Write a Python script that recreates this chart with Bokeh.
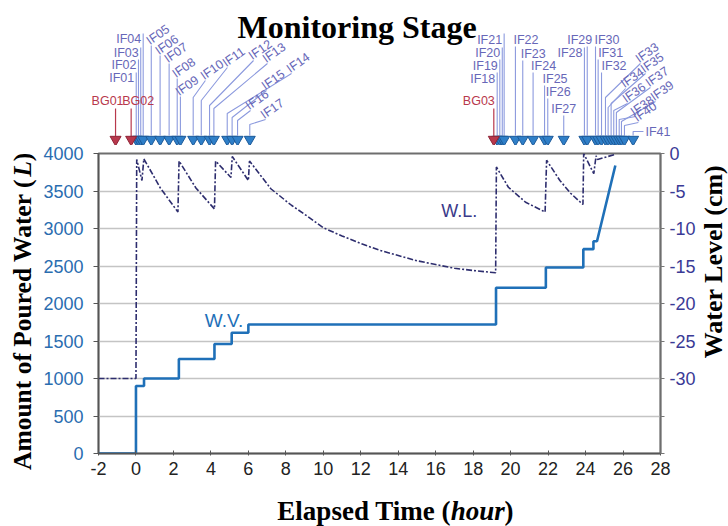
import math
from bokeh.plotting import figure
from bokeh.models import Range1d, LinearAxis, FixedTicker
from bokeh.layouts import column, row
from bokeh.embed import file_html
from bokeh.resources import INLINE
from bokeh.core.properties import value

# ---------------- data ----------------
# amount of poured water (L) vs elapsed time (h), step-wise record
wv_time = [-2, 0, 0, 0.43, 0.43, 2.29, 2.29, 4.19, 4.19, 5.11, 5.11, 6.0, 6.0,
           19.22, 19.22, 21.88, 21.88, 23.88, 23.88, 24.42, 24.42, 24.61, 25.59]
wv_litre = [0, 0, 900, 900, 1000, 1000, 1260, 1260, 1460, 1460, 1610, 1610, 1720,
            1720, 2210, 2210, 2480, 2480, 2725, 2725, 2830, 2830, 3840]

# water level (cm) vs elapsed time (h)
wl_time = [-2, 0, 0.04, 0.32, 0.42, 1.3, 2.24, 2.3, 3.2, 4.19, 4.25, 5.07, 5.14,
           6.0, 6.06, 7.2, 8.3, 9.0, 10, 11, 12, 13, 14, 15, 16, 17, 18, 19.2,
           19.24, 19.88, 20.8, 21.84, 21.92, 22.63, 23.2, 23.86, 23.9, 24.44,
           24.56, 24.64, 25.6]
wl_cm = [-30, -30, -0.8, -3.6, -0.7, -4.6, -7.8, -1.0, -4.6, -7.4, -1.0, -3.2, -0.4,
         -3.6, -1.0, -4.7, -6.9, -8.1, -9.9, -11.0, -12.0, -12.9, -13.6, -14.3,
         -14.8, -15.3, -15.6, -15.9, -1.8, -4.5, -6.5, -7.8, -0.9, -3.6, -5.3,
         -6.8, 0.0, -2.7, -0.3, -0.8, -0.1]

# background readings and infiltration events (h)
bg_names = ["BG01", "BG02", "BG03"]
bg_time = [-1.04, -0.21, 19.08]
if_names = ["IF%02d" % i for i in range(1, 42)]
if_time = [0.06, 0.18, 0.30, 0.43, 0.86, 1.33, 1.81, 2.24, 2.41, 3.09, 3.52, 3.96,
           4.19, 4.90, 5.16, 5.45, 6.10,
           19.26, 19.40, 19.53, 19.63, 20.23, 20.62, 21.17, 21.78, 21.95, 22.80,
           23.90, 24.05, 24.49, 24.63, 24.81, 25.02, 25.16, 25.32, 25.46, 25.60,
           25.75, 25.87, 26.03, 26.49]

x_ticks = list(range(-2, 29, 2))
left_ticks = list(range(0, 4001, 500))
grid_ticks = list(range(500, 3501, 500))
right_ticks = list(range(0, -41, -5))
x_tick_text = {t: str(t) for t in x_ticks}
right_tick_text = {t: (str(t) if t >= -30 else "") for t in right_ticks}

# ---------------- styles / layout ----------------
WV_COLOR = "#1f70b8"
WL_COLOR = "#2d2d6e"
IF_TEXT = "#6767b8"
IF_LINE = "#8c9ade"
TRI_FILL = "#2f7fc8"
TRI_LINE = "#1d5a99"
BG_COLOR = "#b8384c"
SERIF = "Liberation Serif"
SANS = "Liberation Sans"
TAG_SIZE = "12.5px"
TILT = math.radians(35)

PAGE_W, PAGE_H = 728, 526
X0, X1 = -2, 28
SIDE_L, SIDE_R = 40, 30                  # title strips left and right of the chart
PAD_L, FRAME_W, PAD_R = 57, 564, 37      # chart: left panel, frame, right panel
PX_PER_H = FRAME_W / (X1 - X0)
FRAME_LEFT = SIDE_L + PAD_L              # page x of the frame's left edge
STRIP_H = 145                            # height of the event-tag strip
CHART_H = 341                            # chart canvas (frame 300 px)
XT_H = PAGE_H - STRIP_H - CHART_H        # x-title strip


# tag placement in the marker strip: leader path relative to the event
# (hour offset, strip y in px from top), text anchor, alignment, angle, offsets
def stack(line_top, mid, align, xo):
    return dict(path=[(0, line_top)], txt=(0, mid), align=align, ang=0.0, xo=xo, yo=0)


def tilt(path):
    return dict(path=path, txt=path[-1], align="left", ang=TILT, xo=-3.5, yo=-3.5)


LAYOUT = {
    "IF01": stack(72, 77, "right", -2), "IF02": stack(59, 64, "right", -2),
    "IF03": stack(47, 52, "right", -2), "IF04": stack(33, 38, "right", -2),
    "IF05": tilt([(0, 45)]), "IF06": tilt([(0, 55)]), "IF07": tilt([(0, 63)]),
    "IF08": tilt([(0, 78)]), "IF09": tilt([(0, 96)]),
    "IF10": tilt([(0, 97), (0.65, 80)]), "IF11": tilt([(0, 100), (1.39, 67)]),
    "IF12": tilt([(0, 105), (2.34, 60)]), "IF13": tilt([(0, 108), (2.85, 63)]),
    "IF14": tilt([(0, 113), (3.42, 73)]), "IF15": tilt([(0, 117), (1.83, 90)]),
    "IF16": tilt([(0, 120), (0.69, 110)]), "IF17": tilt([(0, 124), (0.84, 119)]),
    "IF18": stack(72, 78, "right", -2), "IF19": stack(59, 65, "right", -2),
    "IF20": stack(47, 52, "right", -2), "IF21": stack(33, 39, "right", -2),
    "IF22": stack(46, 39, "left", -2), "IF23": stack(60, 53, "left", -2),
    "IF24": stack(72, 65, "left", -2), "IF25": stack(85, 78, "left", -2),
    "IF26": stack(98, 91, "left", -2), "IF27": stack(115, 108, "center", 0),
    "IF28": stack(47, 52, "right", -2), "IF29": stack(46, 39, "right", 5),
    "IF30": stack(46, 39, "left", -1), "IF31": stack(59, 52, "left", 0),
    "IF32": stack(72, 65, "left", 0),
    "IF33": tilt([(0, 97), (1.86, 63)]), "IF34": tilt([(0, 107), (0.93, 88)]),
    "IF35": tilt([(0, 103), (1.83, 73)]), "IF36": tilt([(0, 110), (0.73, 103)]),
    "IF37": tilt([(0, 112), (1.81, 87)]), "IF38": tilt([(0, 119), (0.87, 116)]),
    "IF39": tilt([(0, 121), (1.81, 101)]), "IF40": tilt([(0, 125), (0.74, 122)]),
    "IF41": dict(path=[(0, 131), (0.55, 131)], txt=(0.55, 131), align="left",
                 ang=0.0, xo=2, yo=0),
}
BG_LAYOUT = {"BG01": ("center", -8), "BG02": ("center", 7), "BG03": ("right", 1)}
TRI_Y = 139
LEADER_FOOT = 135


def strip(width, height, xr, yr, border_l=0, border_r=0):
    """Axis-less figure used as a canvas for titles and event tags."""
    f = figure(width=width, height=height, x_range=Range1d(*xr), y_range=Range1d(*yr),
               title=None, output_backend="svg", toolbar_location=None, min_border=0,
               min_border_left=border_l, min_border_right=border_r,
               x_axis_location=None, y_axis_location=None)
    f.outline_line_color = None
    f.grid.visible = False
    return f


def serif_text(fig, x, y, text, size, style="bold", angle=0.0, align="left"):
    fig.text(x=[x], y=[y], text=[text], angle=angle, text_font=value(SERIF),
             text_font_size=size, text_font_style=style, text_color="black",
             text_align=align, text_baseline="middle")


# ---------------- main chart ----------------
p = figure(width=PAD_L + FRAME_W + PAD_R, height=CHART_H, x_range=Range1d(X0, X1),
           y_range=Range1d(0, 4000), title=None, output_backend="svg",
           toolbar_location=None, min_border_left=PAD_L, min_border_right=PAD_R,
           min_border_top=8, min_border_bottom=CHART_H - 300 - 8)
p.extra_y_ranges = {"wl": Range1d(-40, 0)}
p.outline_line_color = "#6e6e6e"
p.outline_line_width = 2

xa = p.xaxis[0]
xa.ticker = FixedTicker(ticks=x_ticks)
xa.major_label_overrides = x_tick_text
ya = p.yaxis[0]
ya.ticker = FixedTicker(ticks=left_ticks)

for ax in (xa, ya):
    ax.axis_line_color = "#555555"
    ax.axis_line_width = 1.5
    ax.major_tick_line_color = "#555555"
    ax.minor_tick_line_color = None
    ax.major_label_text_font = SANS
    ax.major_label_text_font_size = "18px"

xa.major_tick_in = 3
xa.major_tick_out = 2
xa.major_label_standoff = 6
xa.major_label_text_color = "#222222"

ya.major_tick_in = 0
ya.major_tick_out = 5
ya.major_label_standoff = 10
ya.major_label_text_color = "#2a6db0"

ra = LinearAxis(y_range_name="wl", ticker=FixedTicker(ticks=right_ticks),
                major_label_overrides=right_tick_text)
ra.axis_line_color = "#6e6e6e"
ra.axis_line_width = 1.5
ra.major_tick_line_color = "#777777"
ra.major_tick_in = 0
ra.major_tick_out = 4
ra.minor_tick_line_color = None
ra.major_label_text_font = SANS
ra.major_label_text_font_size = "18px"
ra.major_label_text_color = "#3a3a96"
ra.major_label_standoff = 5
p.add_layout(ra, "right")

p.xgrid.visible = False
p.ygrid.ticker = FixedTicker(ticks=grid_ticks)
p.ygrid.grid_line_color = "#c4c4c4"
p.ygrid.grid_line_width = 1.5

p.line(wl_time, wl_cm, y_range_name="wl", line_color=WL_COLOR, line_width=1.6,
       line_dash="6 2 2 2")
p.line(wv_time, wv_litre, line_color=WV_COLOR, line_width=2.6)

p.text(x=[4.70], y=[1773], text=["W.V."], text_font=value(SANS), text_font_size="19px",
       text_color=WV_COLOR, text_align="center", text_baseline="middle")
p.text(x=[17.26], y=[3227], text=["W.L."], text_font=value(SANS), text_font_size="18px",
       text_color="#3a3a8a", text_align="center", text_baseline="middle")

# ---------------- marker strip with event tags ----------------
# full page width, same hour scale as the chart frame; y in px from the top
top = strip(PAGE_W, STRIP_H,
            (X0 - FRAME_LEFT / PX_PER_H, X1 + (PAGE_W - FRAME_LEFT - FRAME_W) / PX_PER_H),
            (STRIP_H, 0))

xs, ys = [], []
for name, t in zip(if_names, if_time):
    lay = LAYOUT[name]
    xs.append([t] + [t + dx for dx, _ in lay["path"]])
    ys.append([LEADER_FOOT] + [yy for _, yy in lay["path"]])
top.multi_line(xs, ys, line_color=IF_LINE, line_width=1.1)

for name, t in zip(if_names, if_time):
    lay = LAYOUT[name]
    dx, yy = lay["txt"]
    top.text(x=[t + dx], y=[yy], text=[name], angle=lay["ang"], x_offset=lay["xo"],
             y_offset=lay["yo"], text_font=value(SANS), text_font_size=TAG_SIZE,
             text_color=IF_TEXT, text_align=lay["align"], text_baseline="middle")

top.scatter(if_time, [TRI_Y] * len(if_time), marker="inverted_triangle", size=11,
            fill_color=TRI_FILL, line_color=TRI_LINE, line_width=1)

top.segment(x0=bg_time, y0=[108] * 3, x1=bg_time, y1=[LEADER_FOOT + 1] * 3,
            line_color=BG_COLOR, line_width=1.2)
top.scatter(bg_time, [TRI_Y] * 3, marker="inverted_triangle", size=11,
            fill_color=BG_COLOR, line_color="#8e2436", line_width=1)
for name, t in zip(bg_names, bg_time):
    align, xo = BG_LAYOUT[name]
    top.text(x=[t], y=[100], text=[name], x_offset=xo, text_font=value(SANS),
             text_font_size=TAG_SIZE, text_color=BG_COLOR, text_align=align,
             text_baseline="middle")

serif_text(top, 5.45, 26, "Monitoring Stage", "32px")

# ---------------- axis titles (strip coordinates are page pixels) ----------------
# x title under the frame, unit in italics
xt = strip(PAD_L + FRAME_W + PAD_R, XT_H, (FRAME_LEFT, FRAME_LEFT + FRAME_W),
           (PAGE_H, PAGE_H - XT_H), border_l=PAD_L, border_r=PAD_R)
serif_text(xt, 276.5, 510, "Elapsed Time (", "27px")
serif_text(xt, 450.5, 510, "hour", "27px", style="bold italic")
serif_text(xt, 504.5, 510, ")", "27px")

# left title, read bottom to top
lt = strip(SIDE_L, PAGE_H - STRIP_H, (0, SIDE_L), (PAGE_H, STRIP_H))
serif_text(lt, 22, 469.5, "Amount of Poured Water (", "25.5px", angle=math.pi / 2)
serif_text(lt, 22, 176.3, "L", "25.5px", style="bold italic", angle=math.pi / 2)
serif_text(lt, 22, 160.7, ")", "25.5px", angle=math.pi / 2)

# right title
rt = strip(SIDE_R, PAGE_H - STRIP_H, (PAGE_W - SIDE_R, PAGE_W), (PAGE_H, STRIP_H))
serif_text(rt, 713, 261, "Water Level (cm)", "26px", angle=math.pi / 2, align="center")

layout = column(top, row(lt, column(p, xt), rt))
open("out.html", "w").write(file_html(layout, INLINE))
